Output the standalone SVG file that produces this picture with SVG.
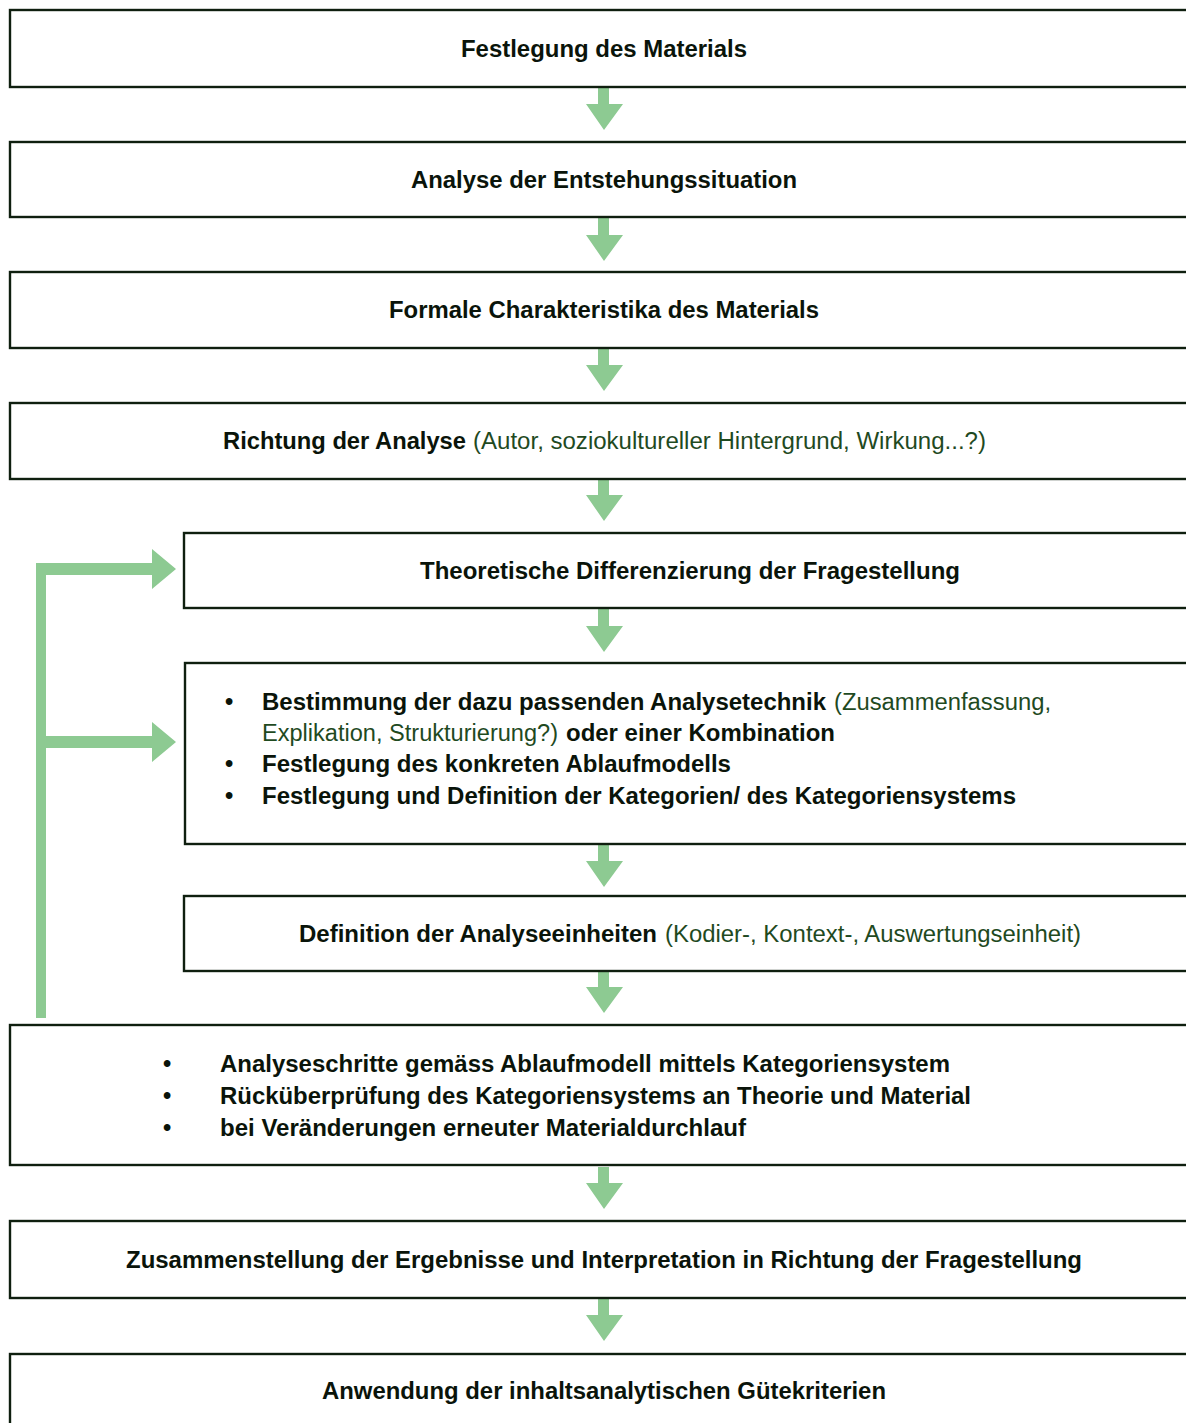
<svg xmlns="http://www.w3.org/2000/svg" width="1186" height="1423" viewBox="0 0 1186 1423">
<style>
.box{fill:#fff;stroke:#0f1f0f;stroke-width:2.4}
.b{font-family:"Liberation Sans",Arial,sans-serif;font-weight:bold;font-size:23.5px;fill:#0a140a}
.n{font-family:"Liberation Sans",Arial,sans-serif;font-size:23.5px;fill:#1f4a1f}
.arr{fill:#8dca92}
</style>
<rect width="1186" height="1423" fill="#fff"/>
<g id="connectors">
<polygon class="arr" points="598,88 609,88 609,104 623,104 604,130 586,104 598,104"/>
<polygon class="arr" points="598,218 609,218 609,235 623,235 604,261 586,235 598,235"/>
<polygon class="arr" points="598,349 609,349 609,365 623,365 604,391 586,365 598,365"/>
<polygon class="arr" points="598,480 609,480 609,495 623,495 604,521 586,495 598,495"/>
<polygon class="arr" points="598,609 609,609 609,626 623,626 604,652 586,626 598,626"/>
<polygon class="arr" points="598,845 609,845 609,861 623,861 604,887 586,861 598,861"/>
<polygon class="arr" points="598,972 609,972 609,987 623,987 604,1013 586,987 598,987"/>
<polygon class="arr" points="598,1167 609,1167 609,1183 623,1183 604,1209 586,1183 598,1183"/>
<polygon class="arr" points="598,1299 609,1299 609,1315 623,1315 604,1341 586,1315 598,1315"/>
<g id="feedback">
<rect class="arr" x="36" y="563" width="10" height="455"/>
<polygon class="arr" points="36,563 152,563 152,549 176,569 152,589 152,575 36,575"/>
<polygon class="arr" points="46,736 152,736 152,722 176,742 152,762 152,748 46,748"/>
</g>
</g>
<g id="n1"><rect class="box" x="10" y="10" width="1200" height="77"/>
<text class="b" x="461" y="57" textLength="286" lengthAdjust="spacingAndGlyphs">Festlegung des Materials</text></g>
<g id="n2"><rect class="box" x="10" y="142" width="1200" height="75"/>
<text class="b" x="411" y="188" textLength="386" lengthAdjust="spacingAndGlyphs">Analyse der Entstehungssituation</text></g>
<g id="n3"><rect class="box" x="10" y="272" width="1200" height="76"/>
<text class="b" x="389" y="318" textLength="430" lengthAdjust="spacingAndGlyphs">Formale Charakteristika des Materials</text></g>
<g id="n4"><rect class="box" x="10" y="403" width="1200" height="76"/>
<text class="b" x="223" y="449" textLength="243" lengthAdjust="spacingAndGlyphs">Richtung der Analyse</text>
<text class="n" x="473" y="449" textLength="513" lengthAdjust="spacingAndGlyphs">(Autor, soziokultureller Hintergrund, Wirkung...?)</text></g>
<g id="n5"><rect class="box" x="184" y="533" width="1020" height="75"/>
<text class="b" x="420" y="579" textLength="540" lengthAdjust="spacingAndGlyphs">Theoretische Differenzierung der Fragestellung</text></g>
<g id="n6"><rect class="box" x="185" y="663" width="1020" height="181"/>
<text class="b" x="225" y="710">•</text>
<text class="b" x="262" y="710" textLength="564" lengthAdjust="spacingAndGlyphs">Bestimmung der dazu passenden Analysetechnik</text>
<text class="n" x="834" y="710" textLength="217" lengthAdjust="spacingAndGlyphs">(Zusammenfassung,</text>
<text class="n" x="262" y="741" textLength="296" lengthAdjust="spacingAndGlyphs">Explikation, Strukturierung?)</text>
<text class="b" x="566" y="741" textLength="269" lengthAdjust="spacingAndGlyphs">oder einer Kombination</text>
<text class="b" x="225" y="772">•</text>
<text class="b" x="262" y="772" textLength="469" lengthAdjust="spacingAndGlyphs">Festlegung des konkreten Ablaufmodells</text>
<text class="b" x="225" y="804">•</text>
<text class="b" x="262" y="804" textLength="754" lengthAdjust="spacingAndGlyphs">Festlegung und Definition der Kategorien/ des Kategoriensystems</text></g>
<g id="n7"><rect class="box" x="184" y="896" width="1020" height="75"/>
<text class="b" x="299" y="942" textLength="358" lengthAdjust="spacingAndGlyphs">Definition der Analyseeinheiten</text>
<text class="n" x="665" y="942" textLength="416" lengthAdjust="spacingAndGlyphs">(Kodier-, Kontext-, Auswertungseinheit)</text></g>
<g id="n8"><rect class="box" x="10" y="1025" width="1200" height="140"/>
<text class="b" x="163" y="1072">•</text>
<text class="b" x="220" y="1072" textLength="730" lengthAdjust="spacingAndGlyphs">Analyseschritte gemäss Ablaufmodell mittels Kategoriensystem</text>
<text class="b" x="163" y="1104">•</text>
<text class="b" x="220" y="1104" textLength="751" lengthAdjust="spacingAndGlyphs">Rücküberprüfung des Kategoriensystems an Theorie und Material</text>
<text class="b" x="163" y="1136">•</text>
<text class="b" x="220" y="1136" textLength="526" lengthAdjust="spacingAndGlyphs">bei Veränderungen erneuter Materialdurchlauf</text></g>
<g id="n9"><rect class="box" x="10" y="1221" width="1200" height="77"/>
<text class="b" x="126" y="1268" textLength="956" lengthAdjust="spacingAndGlyphs">Zusammenstellung der Ergebnisse und Interpretation in Richtung der Fragestellung</text></g>
<g id="n10"><rect class="box" x="10" y="1354" width="1200" height="100"/>
<text class="b" x="322" y="1399" textLength="564" lengthAdjust="spacingAndGlyphs">Anwendung der inhaltsanalytischen Gütekriterien</text></g>
</svg>
